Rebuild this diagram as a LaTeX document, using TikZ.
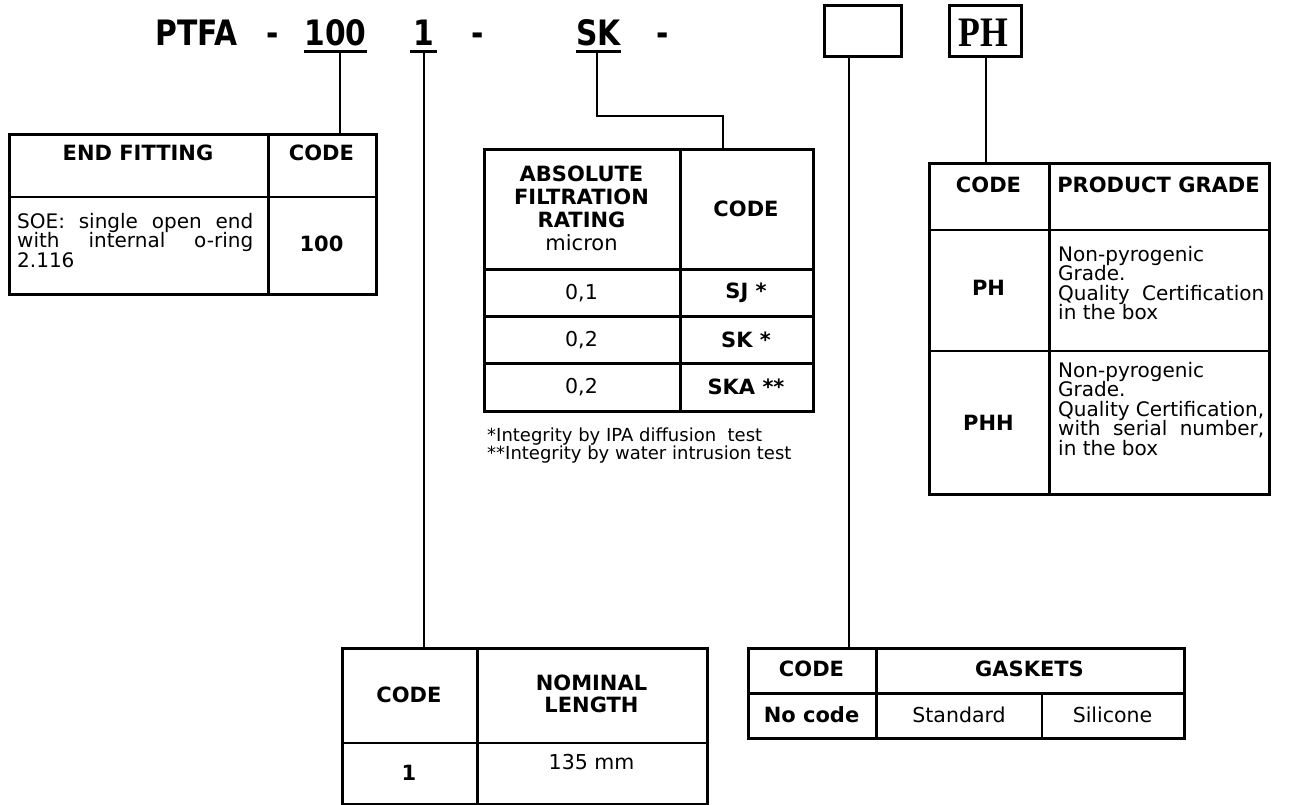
\documentclass[tikz,border=0pt]{standalone}
\usepackage{fontspec}
\setmainfont{DejaVu Sans}
\newfontfamily\titlefont{DejaVu Sans}[FakeStretch=0.85]
\newfontfamily\phfont{Liberation Serif}[FakeStretch=0.85]
\begin{document}
\begin{tikzpicture}[x=1pt,y=-1pt,
  frame/.style={draw, line width=3pt},
  thinrule/.style={line width=1.5pt},
  thickrule/.style={line width=3pt},
  conn/.style={line width=2pt},
  ttl/.style={inner sep=0pt, anchor=base, font=\titlefont\bfseries\fontsize{35}{35}\selectfont},
  bt/.style={inner sep=0pt, align=center, font=\bfseries\fontsize{21}{22}\selectfont},
  rt/.style={inner sep=0pt, align=center, font=\fontsize{20.5}{20}\selectfont},
  lt/.style={inner sep=0pt, align=left, anchor=north west, font=\fontsize{20}{19.5}\selectfont},
  fn/.style={inner sep=0pt, align=left, anchor=north west, font=\fontsize{18}{18}\selectfont}]
\useasboundingbox (0,0) rectangle (1295,805);
% ---------- title ----------
\node[ttl] (tptfa) at (196.5,46) {PTFA};
\node[ttl] (td1) at (272.5,46) {-};
\node[ttl] (t100) at (335.5,46) {100};
\node[ttl] (t1) at (423.5,46) {1};
\node[ttl] (td2) at (478,46) {-};
\node[ttl] (tsk) at (598.5,46) {SK};
\node[ttl] (td3) at (663,46) {-};
\draw[thickrule] ([yshift=-5.5pt]t100.base west) -- ([yshift=-5.5pt]t100.base east);
\draw[thickrule] ([yshift=-5.5pt,xshift=-3pt]t1.base west) -- ([yshift=-5.5pt,xshift=3pt]t1.base east);
\draw[thickrule] ([yshift=-5.5pt]tsk.base west) -- ([yshift=-5.5pt]tsk.base east);
\node[frame, minimum width=77pt, minimum height=51pt, inner sep=0pt, anchor=north west] (bx1) at (823,4) {};
\node[frame, minimum width=72pt, minimum height=51pt, inner sep=0pt, anchor=north west] (bx2) at (948,4) {};
\node[inner sep=0pt, anchor=base, font=\phfont\bfseries\fontsize{42}{42}\selectfont] (phtxt) at (983.5,47) {PH};
% ---------- END FITTING ----------
\node[frame, minimum width=367pt, minimum height=160pt, inner sep=0pt, anchor=north west] (et) at (8,133) {};
\draw[thickrule] (268,133) -- (268,293);
\draw[thinrule] (8,197) -- (375,197);
\node[bt] (etH1) at (138,153) {END FITTING};
\node[bt] (etH2) at (321.5,153) {CODE};
\node[lt] (etB1) at (17,213) {\makebox[236pt][s]{SOE: single open end}\\\makebox[236pt][s]{with internal o-ring}\\2.116};
\node[bt] (etB2) at (321.5,244) {100};
% ---------- FILTRATION ----------
\node[frame, minimum width=329pt, minimum height=262pt, inner sep=0pt, anchor=north west] (ft) at (483,148) {};
\draw[thickrule] (680,148) -- (680,410);
\draw[thickrule] (483,269) -- (812,269);
\draw[thickrule] (483,316) -- (812,316);
\draw[thickrule] (483,363) -- (812,363);
\node[bt, font=\bfseries\fontsize{21}{23}\selectfont] (ftH1) at (581.5,208) {ABSOLUTE\\FILTRATION\\RATING\\\mdseries micron};
\node[bt] (ftH2) at (746,209) {CODE};
\node[rt] (ftR1a) at (581.5,293) {0,1};
\node[bt] (ftR1b) at (746,293) {SJ *};
\node[rt] (ftR2a) at (581.5,340) {0,2};
\node[bt] (ftR2b) at (746,340) {SK *};
\node[rt] (ftR3a) at (581.5,387) {0,2};
\node[bt] (ftR3b) at (746,387) {SKA **};
\node[fn] (ftN) at (487,428) {*Integrity by IPA diffusion\ \ test\\**Integrity by water intrusion test};
% ---------- PRODUCT GRADE ----------
\node[frame, minimum width=340pt, minimum height=331pt, inner sep=0pt, anchor=north west] (pt) at (928,162) {};
\draw[thickrule] (1049,162) -- (1049,493);
\draw[thinrule] (928,230) -- (1268,230);
\draw[thinrule] (928,351) -- (1268,351);
\node[bt] (ptH1) at (988.5,185) {CODE};
\node[bt] (ptH2) at (1158.5,185) {PRODUCT GRADE};
\node[bt] (ptR1a) at (988.5,288) {PH};
\node[lt] (ptR1b) at (1058,246) {Non-pyrogenic\\Grade.\\\makebox[206pt][s]{Quality Certification}\\in the box};
\node[bt] (ptR2a) at (988.5,423) {PHH};
\node[lt] (ptR2b) at (1058,362) {Non-pyrogenic\\Grade.\\\makebox[206pt][s]{Quality Certification,}\\\makebox[206pt][s]{with serial number,}\\in the box};
% ---------- NOMINAL LENGTH ----------
\node[frame, minimum width=365pt, minimum height=156pt, inner sep=0pt, anchor=north west] (nt) at (341,647) {};
\draw[thickrule] (477,647) -- (477,803);
\draw[thinrule] (341,743) -- (706,743);
\node[bt] (ntH1) at (409,695) {CODE};
\node[bt] (ntH2) at (591.5,694) {NOMINAL\\LENGTH};
\node[bt] (ntR1a) at (409,773) {1};
\node[rt] (ntR1b) at (591.5,762) {135 mm};
% ---------- GASKETS ----------
\node[frame, minimum width=436pt, minimum height=90pt, inner sep=0pt, anchor=north west] (gt) at (747,647) {};
\draw[thickrule] (876,647) -- (876,737);
\draw[thickrule] (747,693) -- (1183,693);
\draw[thinrule] (1042,693) -- (1042,737);
\node[bt] (gtH1) at (811.5,669) {CODE};
\node[bt] (gtH2) at (1029.5,669) {GASKETS};
\node[bt] (gtR1) at (811.5,715) {No code};
\node[rt] (gtR2) at (959,715) {Standard};
\node[rt] (gtR3) at (1112.5,715) {Silicone};
% ---------- connectors ----------
\draw[conn] ([xshift=4.5pt,yshift=-7pt]t100.base) -- ([xshift=4.5pt]t100.base |- et.north);
\draw[conn] ([yshift=-7pt]t1.base) -- (t1.base |- nt.north);
\coordinate (skbend1) at (597,116);
\coordinate (skbend2) at (723,116);
\draw[conn] ([yshift=-7pt]tsk.base -| skbend1) -- (skbend1) -- (skbend2) -- (skbend2 |- ft.north);
\draw[conn] ([xshift=-14.5pt]bx1.south) -- ([xshift=-14.5pt]bx1.south |- gt.north);
\draw[conn] (bx2.south) -- (bx2.south |- pt.north);
\end{tikzpicture}
\end{document}
